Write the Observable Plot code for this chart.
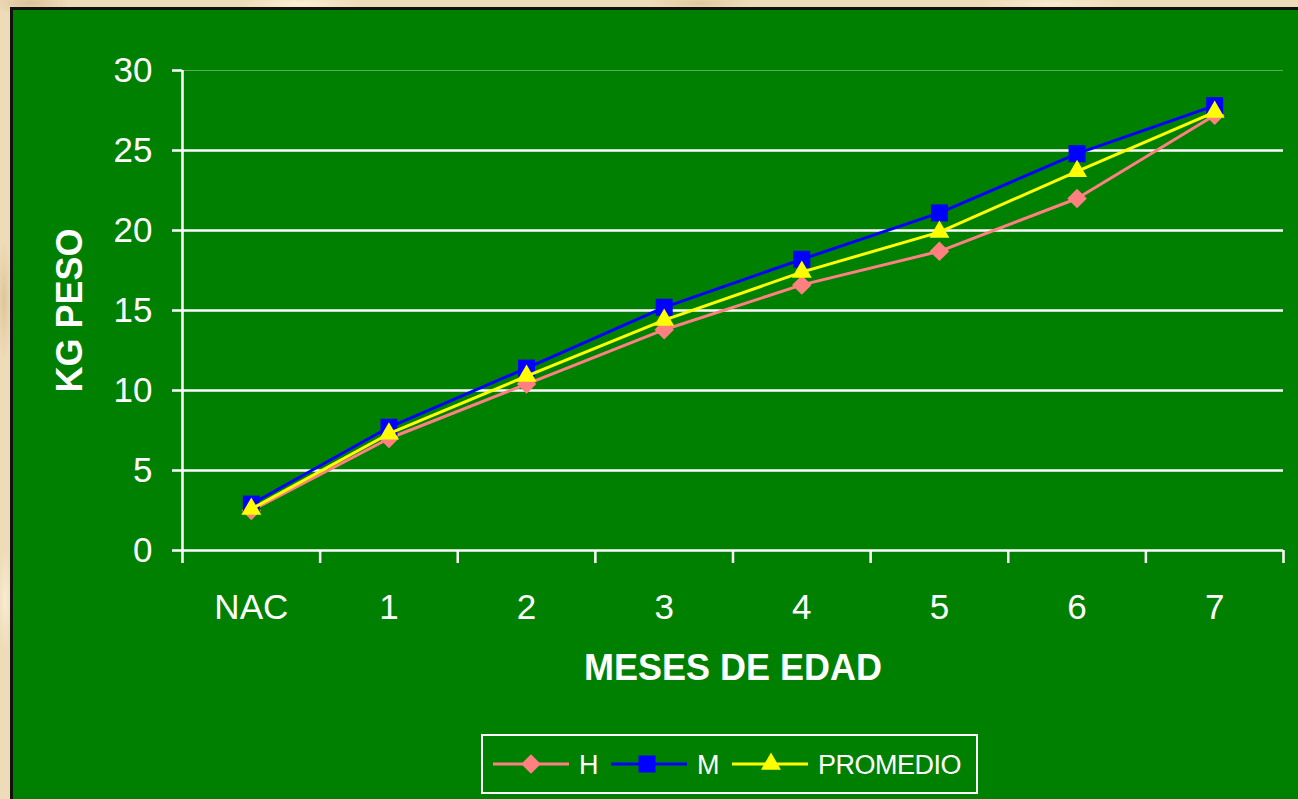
<!DOCTYPE html>
<html><head><meta charset="utf-8">
<script src="https://cdn.jsdelivr.net/npm/d3@7"></script>
<script src="https://cdn.jsdelivr.net/npm/@observablehq/plot@0.6"></script>
<style>
html,body{margin:0;padding:0;}
body{width:1298px;height:799px;overflow:hidden;position:relative;
  background-color:#eedcb8;
  background-image:
    radial-gradient(ellipse 40px 12px at 30px 3px, rgba(200,170,120,0.5), transparent),
    radial-gradient(ellipse 60px 10px at 300px 4px, rgba(255,245,225,0.7), transparent),
    radial-gradient(ellipse 50px 8px at 700px 3px, rgba(210,180,130,0.5), transparent),
    radial-gradient(ellipse 70px 9px at 1050px 4px, rgba(255,245,225,0.6), transparent),
    radial-gradient(ellipse 8px 60px at 4px 300px, rgba(205,175,125,0.5), transparent),
    radial-gradient(ellipse 8px 50px at 5px 600px, rgba(255,245,225,0.6), transparent);
}
#panel{position:absolute;left:10px;top:7px;right:-5px;bottom:-5px;background:#008000;border-left:3px solid #111;border-top:3px solid #111;}
#chart{position:absolute;left:0;top:0;}
#legend{position:absolute;left:481px;top:734px;width:497px;height:60px;box-sizing:border-box;border:2px solid #fff;}
#legend svg{position:absolute;left:-2px;top:-2px;overflow:visible;}
</style></head><body>
<div id="panel"></div>
<div id="chart"></div>
<div id="legend"></div>
<script>
const categories = ["NAC", "1", "2", "3", "4", "5", "6", "7"];
const H        = [2.5, 7.0, 10.4, 13.8, 16.6, 18.7, 22.0, 27.2];
const M        = [2.9, 7.7, 11.4, 15.2, 18.2, 21.1, 24.8, 27.8];
const PROMEDIO = [2.6, 7.3, 10.9, 14.4, 17.4, 19.9, 23.7, 27.4];
const yTicks = [0, 5, 10, 15, 20, 25, 30];
const seriesNames = ["H", "M", "PROMEDIO"];
const seriesValues = [H, M, PROMEDIO];
const seriesColors = ["#ff8080", "#0000ff", "#ffff00"];
const seriesSymbols = ["diamond2", "square", "triangle"];
const seriesR = [8.8, 9.6, 7.4];

const idx = categories.map((_, i) => i);
const boundaries = d3.range(-0.5, categories.length, 1);

const seriesMarks = seriesNames.flatMap((name, s) => {
  const data = idx.map(i => ({i, v: seriesValues[s][i]}));
  return [
    Plot.line(data, {x: "i", y: "v", stroke: seriesColors[s], strokeWidth: 3}),
    Plot.dot(data, {x: "i", y: "v", symbol: seriesSymbols[s], r: seriesR[s], fill: seriesColors[s], stroke: "none"})
  ];
});

const chart = Plot.plot({
  width: 1298,
  height: 720,
  marginLeft: 182,
  marginRight: 15,
  marginTop: 70,
  marginBottom: 170,
  style: {background: "transparent", color: "white", fontFamily: "'Liberation Sans', Arial, sans-serif", fontSize: "35px", overflow: "visible"},
  x: {domain: [-0.5, categories.length - 0.5], label: null},
  y: {domain: [0, 30], label: null},
  marks: [
    Plot.ruleY(yTicks.filter(t => t > 0 && t < 30), {stroke: "white", strokeWidth: 2.5}),
    Plot.ruleY([30], {stroke: "white", strokeOpacity: 0.35, strokeWidth: 1}),
    Plot.axisY({ticks: yTicks, tickSize: 10, tickPadding: 20, strokeWidth: 2.5, fontSize: 35, label: null}),
    Plot.axisX({ticks: boundaries, tickSize: 13, tickFormat: () => "", strokeWidth: 2.5, label: null}),
    Plot.axisX({ticks: idx, tickSize: 0, tickPadding: 44, tickFormat: i => categories[i], fontSize: 35, label: null}),
    Plot.ruleX([-0.5], {stroke: "white", strokeWidth: 2.5}),
    Plot.ruleY([0], {stroke: "white", strokeWidth: 2.5}),
    Plot.text(["MESES DE EDAD"], {frameAnchor: "bottom", dy: 118, lineAnchor: "middle", fontWeight: "bold", fontSize: 36, fill: "white"}),
    Plot.text(["KG PESO"], {frameAnchor: "left", dx: -112, rotate: -90, textAnchor: "middle", lineAnchor: "middle", fontWeight: "bold", fontSize: 36, fill: "white"}),
    ...seriesMarks
  ]
});
document.getElementById("chart").append(chart);

// Legend
const legendItems = [
  {x1: 12, x2: 88, mx: 50, tx: 98},
  {x1: 130, x2: 206, mx: 166, tx: 216},
  {x1: 251, x2: 327, mx: 290, tx: 337}
];
const symbolTypes = {diamond2: d3.symbolDiamond2, square: d3.symbolSquare, triangle: d3.symbolTriangle};
const lsvg = d3.select("#legend").append("svg").attr("width", 497).attr("height", 60);
seriesNames.forEach((name, s) => {
  const it = legendItems[s];
  const cy = 30;
  lsvg.append("line").attr("x1", it.x1).attr("x2", it.x2).attr("y1", cy).attr("y2", cy)
    .attr("stroke", seriesColors[s]).attr("stroke-width", 3);
  lsvg.append("path")
    .attr("d", d3.symbol(symbolTypes[seriesSymbols[s]], Math.PI * seriesR[s] * seriesR[s])())
    .attr("transform", `translate(${it.mx},${cy})`)
    .attr("fill", seriesColors[s]);
  lsvg.append("text").attr("x", it.tx).attr("y", cy).attr("dy", "0.36em")
    .attr("fill", "white").attr("font-family", "'Liberation Sans', Arial, sans-serif")
    .attr("font-size", 27).attr("letter-spacing", "-0.5px").text(name);
});
</script>
</body></html>
